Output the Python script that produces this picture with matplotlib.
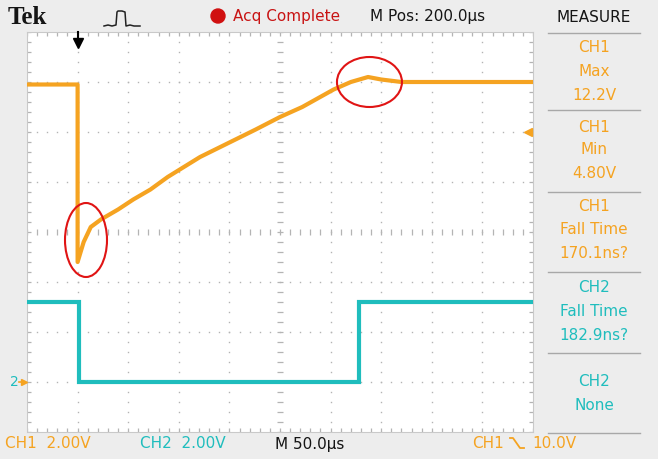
import numpy as np
import matplotlib.pyplot as plt
from matplotlib.patches import Ellipse
from matplotlib.lines import Line2D

W, H = 658, 459

# Channel 1: time (µs) vs. voltage (V)
ch1_t = [-50, 0, 0, 6, 13, 23, 40, 55, 72, 89, 105, 121, 151, 176, 200,
         222, 253, 270, 287, 300, 320, 380, 450]
ch1_v = [11.9, 11.9, 4.8, 5.6, 6.2, 6.5, 6.9, 7.3, 7.7, 8.2, 8.6, 9.0, 9.6,
         10.1, 10.6, 11.0, 11.7, 12.0, 12.2, 12.1, 12.0, 12.0, 12.0]

# Channel 2: time (µs) vs. voltage (V)
ch2_t = [-50, 1, 1, 278, 278, 450]
ch2_v = [3.2, 3.2, 0.0, 0.0, 3.2, 3.2]

trigger_level = 10.0

# Measurement readouts on the right-hand panel
meas_ch1 = [["CH1", "Max", "12.2V"], ["CH1", "Min", "4.80V"],
            ["CH1", "Fall Time", "170.1ns?"]]
meas_ch2 = [["CH2", "Fall Time", "182.9ns?"], ["CH2", "None"]]

ORANGE = "#f5a321"
CYAN = "#1fbdbd"
BG = "#ededed"
FONT = ["Liberation Sans Narrow", "DejaVu Sans"]


def fx(x):
    return x / W


def fy(y):
    return 1 - y / H


fig = plt.figure(figsize=(W / 100, H / 100), dpi=100, facecolor=BG)
ax = fig.add_axes([fx(27), fy(432), (533 - 27) / W, (432 - 32) / H])
ax.set_facecolor("white")
ax.set_xlim(-50, 450)
ax.set_ylim(-2, 14)
ax.set_xticks([])
ax.set_yticks([])
for s in ax.spines.values():
    s.set_color("#c9c9c9")
    s.set_linewidth(0.8)

# Graticule: dotted division lines
grid_col = "#b4b4b4"
ydots = np.arange(-2, 14.01, 0.4)
xdots = np.arange(-50, 450.01, 10)
for t in np.arange(0, 401, 50):
    if t == 200:
        continue
    ax.plot(np.full_like(ydots, t), ydots, ls="none", marker="s",
            ms=1.0, color=grid_col, mew=0)
for v in np.arange(0, 13, 2):
    if v == 6:
        continue
    ax.plot(xdots, np.full_like(xdots, v), ls="none", marker="s",
            ms=1.0, color=grid_col, mew=0)
# centre cross with minor ticks
ax.plot(np.full_like(ydots, 200), ydots, ls="none", marker="_", ms=5,
        color=grid_col, mew=0.9)
ax.plot(xdots, np.full_like(xdots, 6), ls="none", marker="|", ms=5,
        color=grid_col, mew=0.9)
# edge ticks
for yy in (-2, 14):
    ax.plot(xdots, np.full_like(xdots, yy), ls="none", marker="|", ms=6,
            color=grid_col, mew=0.9, clip_on=True)
for xx in (-50, 450):
    ax.plot(np.full_like(ydots, xx), ydots, ls="none", marker="_", ms=6,
            color=grid_col, mew=0.9, clip_on=True)

# Traces
ax.plot(ch2_t, ch2_v, color=CYAN, lw=3.0, solid_joinstyle="miter", zorder=5)
ax.plot(ch1_t, ch1_v, color=ORANGE, lw=3.0, solid_joinstyle="round", zorder=6)

# Highlight ellipses
ax.add_patch(Ellipse((8.3, 5.68), 41.5, 2.96, fill=False, ec="#e01414",
                     lw=1.5, zorder=7))
ax.add_patch(Ellipse((288.4, 12.0), 64.2, 2.0, fill=False, ec="#e01414",
                     lw=1.5, zorder=7))

# Trigger markers
ax.plot([0, 0], [14, 13.5], color="black", lw=1.5, clip_on=False, zorder=8)
ax.plot([0], [13.55], marker="v", ms=7, color="black", clip_on=False, zorder=8)
ax.plot([445], [trigger_level], marker="<", ms=6, color=ORANGE,
        clip_on=False, zorder=8)

# Ground reference marker on the left
fig.text(fx(10), fy(382), "2", color=CYAN, fontsize=10, family=FONT,
         ha="left", va="center")
fig.add_artist(Line2D([fx(19), fx(24)], [fy(382), fy(382)], color=ORANGE, lw=1.2))
fig.add_artist(Line2D([fx(24)], [fy(382)], marker=">", ms=5, color=ORANGE))

# Header bar
fig.text(fx(8), fy(17), "Tek", fontsize=18, fontweight="bold",
         family=["Liberation Serif", "DejaVu Serif"], ha="left", va="center",
         color="#151515")
pulse_x = [104, 108, 112, 116, 117, 118, 122, 125, 126, 130, 134, 140]
pulse_y = [26, 25, 26, 25, 12, 11, 11, 12, 26, 25, 26, 26]
fig.add_artist(Line2D([fx(x) for x in pulse_x], [fy(y) for y in pulse_y],
                      color="#222222", lw=1.1))
fig.add_artist(Ellipse((fx(218), fy(16)), 14 / W, 14 / H, color="#d01010",
                       transform=fig.transFigure))
fig.text(fx(233), fy(17), "Acq Complete", color="#c81414", fontsize=11,
         family=FONT, ha="left", va="center")
fig.text(fx(370), fy(17), "M Pos: 200.0µs", color="#151515", fontsize=11,
         family=FONT, ha="left", va="center")
fig.text(fx(594), fy(17), "MEASURE", color="#151515", fontsize=11,
         family=FONT, ha="center", va="center")

# Measurement panel
sep_col = "#a8a8a8"
for y in (33, 110, 192, 272, 353, 433):
    fig.add_artist(Line2D([fx(548), fx(640)], [fy(y), fy(y)], color=sep_col,
                          lw=1.0))
rows_y = [[47, 71, 95], [127, 150, 174], [206, 230, 254]]
for lines, ys in zip(meas_ch1, rows_y):
    for txt, y in zip(lines, ys):
        fig.text(fx(594), fy(y), txt, color=ORANGE, fontsize=11, family=FONT,
                 ha="center", va="center")
rows_y2 = [[288, 311, 335], [382, 405]]
for lines, ys in zip(meas_ch2, rows_y2):
    for txt, y in zip(lines, ys):
        fig.text(fx(594), fy(y), txt, color=CYAN, fontsize=11, family=FONT,
                 ha="center", va="center")

# Bottom status line
fig.text(fx(5), fy(444), "CH1  2.00V", color=ORANGE, fontsize=11,
         family=FONT, ha="left", va="center")
fig.text(fx(140), fy(444), "CH2  2.00V", color=CYAN, fontsize=11,
         family=FONT, ha="left", va="center")
fig.text(fx(275), fy(444), "M 50.0µs", color="#151515", fontsize=11,
         family=FONT, ha="left", va="center")
fig.text(fx(472), fy(444), "CH1", color=ORANGE, fontsize=11,
         family=FONT, ha="left", va="center")
edge_x = [510, 513, 520, 524]
edge_y = [438, 438, 448, 448]
fig.add_artist(Line2D([fx(x) for x in edge_x], [fy(y) for y in edge_y],
                      color=ORANGE, lw=1.3))
fig.text(fx(532), fy(444), "10.0V", color=ORANGE, fontsize=11,
         family=FONT, ha="left", va="center")

fig.savefig("out.png", dpi=100, facecolor=BG)
